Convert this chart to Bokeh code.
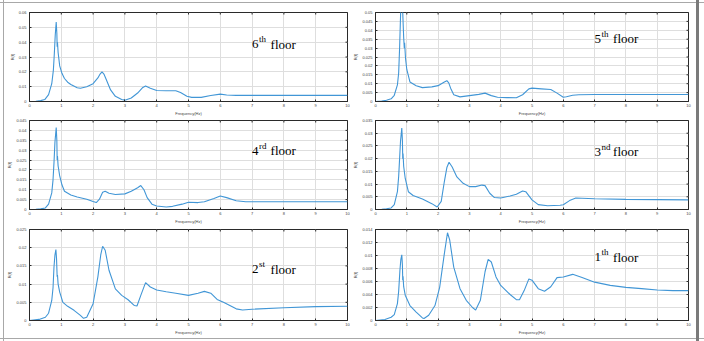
import math
from bokeh.plotting import figure
from bokeh.layouts import column, row
from bokeh.models import FixedTicker, Label, Range1d
from bokeh.embed import file_html
from bokeh.resources import INLINE

# ---------------- data ----------------
x_ticks = [0, 1, 2, 3, 4, 5, 6, 7, 8, 9, 10]
x_tick_labels = ["0", "1", "2", "3", "4", "5", "6", "7", "8", "9", "10"]
x_title = "Frequency(Hz)"
y_title = "R(f)"

# 6th floor
f6 = [0, 0.2, 0.35, 0.48, 0.6, 0.7, 0.75, 0.78, 0.81, 0.84, 0.86, 0.87, 0.88, 0.9, 0.95, 1.02, 1.1,
      1.2, 1.3, 1.5, 1.6, 1.8, 2.0, 2.15, 2.22, 2.28, 2.34, 2.4, 2.55, 2.7, 2.9, 3.0, 3.2, 3.4, 3.55,
      3.65, 3.8, 4.0, 4.3, 4.6, 4.75, 4.95, 5.1, 5.4, 5.7, 6.0, 6.2, 6.5, 7.0, 8.0, 9.0, 10.0]
r6 = [0, 0.0002, 0.0006, 0.0013, 0.0046, 0.012, 0.021, 0.032, 0.045, 0.0535, 0.046, 0.037, 0.040,
      0.033, 0.024, 0.019, 0.0155, 0.013, 0.0115, 0.0093, 0.0089, 0.0100, 0.012, 0.0159, 0.0185,
      0.0200, 0.0185, 0.0155, 0.0078, 0.0035, 0.0013, 0.0009, 0.0024, 0.0057, 0.0092, 0.0104,
      0.0089, 0.0074, 0.0072, 0.0072, 0.0060, 0.0035, 0.0028, 0.0028, 0.0040, 0.0050, 0.0044,
      0.0041, 0.0041, 0.0041, 0.0041, 0.0041]
y6_ticks = [0, 0.01, 0.02, 0.03, 0.04, 0.05, 0.06]
y6_labels = ["0", "0.01", "0.02", "0.03", "0.04", "0.05", "0.06"]

# 5th floor
f5 = [0, 0.2, 0.35, 0.5, 0.6, 0.7, 0.74, 0.77, 0.8, 0.83, 0.85, 0.87, 0.9, 0.92, 0.93, 0.96, 1.0,
      1.1, 1.3, 1.5, 1.8, 2.0, 2.2, 2.28, 2.34, 2.4, 2.5, 2.7, 3.0, 3.3, 3.5, 3.7, 3.9, 4.2, 4.5,
      4.7, 4.9, 5.0, 5.3, 5.6, 5.8, 6.0, 6.1, 6.3, 6.5, 7, 8, 9, 10]
r5 = [0, 0.0002, 0.0007, 0.0015, 0.0035, 0.0093, 0.016, 0.030, 0.048, 0.068, 0.066, 0.050, 0.036,
      0.030, 0.033, 0.024, 0.018, 0.011, 0.0089, 0.0078, 0.0082, 0.0089, 0.011, 0.0117, 0.0105,
      0.0075, 0.0038, 0.0026, 0.0033, 0.0040, 0.0047, 0.0033, 0.0024, 0.0022, 0.0021, 0.0038,
      0.0071, 0.0075, 0.0071, 0.0067, 0.0047, 0.0024, 0.0027, 0.0035, 0.0038, 0.0039, 0.0039,
      0.0039, 0.0039]
y5_ticks = [0, 0.005, 0.01, 0.015, 0.02, 0.025, 0.03, 0.035, 0.04, 0.045, 0.05]
y5_labels = ["0", "0.005", "0.01", "0.015", "0.02", "0.025", "0.03", "0.035", "0.04", "0.045", "0.05"]

# 4th floor
f4 = [0, 0.2, 0.35, 0.5, 0.6, 0.7, 0.74, 0.77, 0.8, 0.84, 0.86, 0.87, 0.88, 0.9, 0.95, 1.02, 1.1,
      1.3, 1.5, 1.8, 2.0, 2.1, 2.2, 2.3, 2.38, 2.5, 2.7, 3.0, 3.2, 3.4, 3.5, 3.6, 3.7, 3.85, 4.0,
      4.3, 4.5, 4.8, 5.0, 5.3, 5.5, 5.8, 6.0, 6.2, 6.5, 6.8, 7, 8, 9, 10]
r4 = [0, 0.0001, 0.0003, 0.0008, 0.0027, 0.0084, 0.015, 0.0237, 0.034, 0.0415, 0.035, 0.025, 0.027,
      0.022, 0.017, 0.0125, 0.0092, 0.0073, 0.0063, 0.0052, 0.0040, 0.0035, 0.0052, 0.0087, 0.0092,
      0.0082, 0.0076, 0.0079, 0.0092, 0.011, 0.0121, 0.0100, 0.0060, 0.0027, 0.0018, 0.0013,
      0.0016, 0.0027, 0.0037, 0.0035, 0.0039, 0.0056, 0.0068, 0.0060, 0.0044, 0.0039, 0.0039,
      0.0039, 0.0039, 0.0039]
y4_ticks = [0, 0.005, 0.01, 0.015, 0.02, 0.025, 0.03, 0.035, 0.04, 0.045]
y4_labels = ["0", "0.005", "0.01", "0.015", "0.02", "0.025", "0.03", "0.035", "0.04", "0.045"]

# 3rd floor
f3 = [0, 0.2, 0.35, 0.5, 0.6, 0.7, 0.74, 0.77, 0.8, 0.84, 0.86, 0.87, 0.88, 0.9, 0.95, 1.05, 1.2,
      1.5, 1.8, 1.97, 2.1, 2.2, 2.28, 2.35, 2.45, 2.6, 2.8, 3.0, 3.2, 3.4, 3.5, 3.65, 3.8, 4.0, 4.3,
      4.5, 4.7, 4.8, 5.0, 5.2, 5.5, 5.9, 6.0, 6.2, 6.4, 7, 8, 9, 10]
r3 = [0, 0.0001, 0.0003, 0.0006, 0.0019, 0.007, 0.013, 0.020, 0.027, 0.032, 0.027, 0.020, 0.022,
      0.017, 0.0122, 0.007, 0.0055, 0.0041, 0.0023, 0.001, 0.0032, 0.011, 0.0165, 0.0186, 0.0167,
      0.0128, 0.0103, 0.009, 0.009, 0.0096, 0.0094, 0.0064, 0.0047, 0.0045, 0.0053, 0.006, 0.0073,
      0.007, 0.0038, 0.0019, 0.0015, 0.0017, 0.0019, 0.0035, 0.0045, 0.0042, 0.004, 0.0039, 0.0038]
y3_ticks = [0, 0.005, 0.01, 0.015, 0.02, 0.025, 0.03, 0.035]
y3_labels = ["0", "0.005", "0.01", "0.015", "0.02", "0.025", "0.03", "0.035"]

# 2nd floor
f2 = [0, 0.3, 0.5, 0.6, 0.7, 0.74, 0.77, 0.8, 0.83, 0.85, 0.87, 0.88, 0.9, 0.95, 1.05, 1.2, 1.4,
      1.6, 1.7, 1.8, 2.0, 2.15, 2.24, 2.3, 2.38, 2.5, 2.7, 2.9, 3.1, 3.3, 3.38, 3.5, 3.65, 3.8, 4.0,
      4.3, 4.6, 5.0, 5.3, 5.5, 5.7, 5.9, 6.1, 6.3, 6.5, 6.7, 7, 8, 9, 10]
r2 = [0, 0.0003, 0.0009, 0.002, 0.0055, 0.009, 0.0147, 0.018, 0.0195, 0.017, 0.012, 0.0125, 0.010,
      0.0078, 0.005, 0.0039, 0.0028, 0.0014, 0.0006, 0.0009, 0.0046, 0.012, 0.018, 0.0204, 0.0193,
      0.0138, 0.0087, 0.0069, 0.0057, 0.0041, 0.0040, 0.0069, 0.0104, 0.0092, 0.0084, 0.0079,
      0.0075, 0.0069, 0.0075, 0.008, 0.0075, 0.0058, 0.005, 0.0041, 0.0032, 0.0029, 0.0031,
      0.0035, 0.0038, 0.0039]
y2_ticks = [0, 0.005, 0.01, 0.015, 0.02, 0.025]
y2_labels = ["0", "0.005", "0.01", "0.015", "0.02", "0.025"]

# 1st floor
f1 = [0, 0.3, 0.5, 0.6, 0.7, 0.74, 0.78, 0.81, 0.84, 0.86, 0.87, 0.88, 0.9, 0.95, 1.1, 1.3, 1.5,
      1.55, 1.7, 1.9, 2.05, 2.2, 2.3, 2.37, 2.5, 2.7, 2.9, 3.1, 3.2, 3.35, 3.5, 3.6, 3.7, 3.85, 4.0,
      4.3, 4.5, 4.6, 4.75, 4.9, 5.0, 5.2, 5.4, 5.6, 5.8, 6.0, 6.3, 6.6, 7, 7.5, 8, 8.5, 9, 9.5, 10]
r1 = [0, 0.00015, 0.0005, 0.0009, 0.0026, 0.0045, 0.0077, 0.0094, 0.0101, 0.0085, 0.0062, 0.0068,
      0.0052, 0.0039, 0.0023, 0.0013, 0.0004, 0.0003, 0.0008, 0.0023, 0.0051, 0.0103, 0.0135,
      0.0124, 0.0082, 0.0049, 0.0031, 0.002, 0.0016, 0.0031, 0.0075, 0.0094, 0.009, 0.0067, 0.0054,
      0.004, 0.0032, 0.0032, 0.0046, 0.0064, 0.0062, 0.0049, 0.0045, 0.0052, 0.0066, 0.0067,
      0.0071, 0.0066, 0.0059, 0.0054, 0.0051, 0.0049, 0.0047, 0.0046, 0.0046]
y1_ticks = [0, 0.002, 0.004, 0.006, 0.008, 0.01, 0.012, 0.014]
y1_labels = ["0", "0.002", "0.004", "0.006", "0.008", "0.01", "0.012", "0.014"]

floor_numbers = ["6", "5", "4", "3", "2", "1"]
floor_suffixes = ["th", "th", "rd", "nd", "st", "th"]
label_x = [7.0, 7.0, 7.0, 7.0, 7.0, 7.0]
label_y = [0.0385, 0.0352, 0.0298, 0.0227, 0.0141, 0.00974]

freqs = [f6, f5, f4, f3, f2, f1]
vals = [r6, r5, r4, r3, r2, r1]
yticks = [y6_ticks, y5_ticks, y4_ticks, y3_ticks, y2_ticks, y1_ticks]
ylabels = [y6_labels, y5_labels, y4_labels, y3_labels, y2_labels, y1_labels]

# ---------------- styling ----------------
LINE_COLOR = "#4196d6"
GRID_COLOR = "#dedede"
AX_COLOR = "#2a2a2a"
TICK_FONT = "4px"
SERIF = "Liberation Serif"

# (width, border left, border right)
col_geom = [(350, 29, 3), (354, 21, 16)]
# (height, border top, border bottom)
row_geom = [(118, 12, 14), (108, 2, 14), (115, 3, 21)]


def make_panel(i):
    r_idx, c_idx = divmod(i, 2)
    w, bl, br = col_geom[c_idx]
    h, bt, bb = row_geom[r_idx]
    ymax = yticks[i][-1]
    p = figure(width=w, height=h, output_backend="svg", toolbar_location=None,
               x_range=Range1d(0, 10), y_range=Range1d(0, ymax),
               min_border_left=bl, min_border_right=br, min_border_top=bt, min_border_bottom=bb,
               x_axis_label=x_title, y_axis_label=y_title)
    p.line(freqs[i], vals[i], line_color=LINE_COLOR, line_width=1.1)

    xt = FixedTicker(ticks=x_ticks)
    yt = FixedTicker(ticks=yticks[i])
    p.xaxis.ticker = xt
    p.yaxis.ticker = yt
    p.xaxis.major_label_overrides = {t: s for t, s in zip(x_ticks, x_tick_labels)}
    p.yaxis.major_label_overrides = {t: s for t, s in zip(yticks[i], ylabels[i])}
    for ax in (p.xaxis[0], p.yaxis[0]):
        ax.major_tick_in = 2
        ax.major_tick_out = 0
        ax.minor_tick_line_color = None
        ax.axis_line_color = AX_COLOR
        ax.major_tick_line_color = AX_COLOR
        ax.major_label_text_font_size = TICK_FONT
        ax.major_label_text_color = "#444444"
        ax.major_label_text_font = "Liberation Sans"
        ax.axis_label_text_font_size = TICK_FONT
        ax.axis_label_text_font_style = "normal"
        ax.axis_label_text_color = "#444444"
        ax.axis_label_text_font = "Liberation Sans"
        ax.major_label_standoff = 2
        ax.axis_label_standoff = 1
    p.yaxis.major_label_standoff = 3

    # mirrored inward ticks on the top and right edges (MATLAB box style)
    p.scatter(x_ticks, [ymax] * len(x_ticks), marker="dash", angle=math.pi / 2, size=4,
              line_color=AX_COLOR, line_width=1)
    p.scatter([10] * len(yticks[i]), yticks[i], marker="dash", size=4,
              line_color=AX_COLOR, line_width=1)

    p.xgrid.grid_line_color = GRID_COLOR
    p.ygrid.grid_line_color = GRID_COLOR
    p.xgrid.ticker = xt
    p.ygrid.ticker = yt
    p.outline_line_color = AX_COLOR
    p.outline_line_width = 1
    p.background_fill_color = "white"
    p.border_fill_alpha = 0

    lx, ly = label_x[i], label_y[i]
    p.add_layout(Label(x=lx, y=ly, text=floor_numbers[i], text_font=SERIF, text_font_size="13px",
                       text_color="black", text_baseline="alphabetic"))
    p.add_layout(Label(x=lx, y=ly, x_offset=7, y_offset=5, text=floor_suffixes[i], text_font=SERIF,
                       text_font_size="9px", text_color="black", text_baseline="alphabetic"))
    p.add_layout(Label(x=lx, y=ly, x_offset=18.5, text="floor", text_font=SERIF, text_font_size="13px",
                       text_color="black", text_baseline="alphabetic"))
    return p


# thin grey frame round the whole picture, with a darker bar on the right edge
frame_bg = ", ".join([
    "linear-gradient(to right, transparent 696px, #7a7a7a 696px, #7a7a7a 699px, transparent 699px)",
    "linear-gradient(to right, transparent 3px, #a8a8a8 3px, #a8a8a8 4px, transparent 4px)",
    "linear-gradient(to bottom, transparent 2px, #a8a8a8 2px, #a8a8a8 3px, transparent 3px)",
    "linear-gradient(to bottom, transparent 338px, #a8a8a8 338px, #a8a8a8 339px, transparent 339px)",
])

panels = [make_panel(i) for i in range(6)]
layout = column(row(panels[0], panels[1], spacing=0),
                row(panels[2], panels[3], spacing=0),
                row(panels[4], panels[5], spacing=0),
                spacing=0,
                styles={"background-image": frame_bg, "background-color": "white"})

open("out.html", "w").write(file_html(layout, INLINE))
